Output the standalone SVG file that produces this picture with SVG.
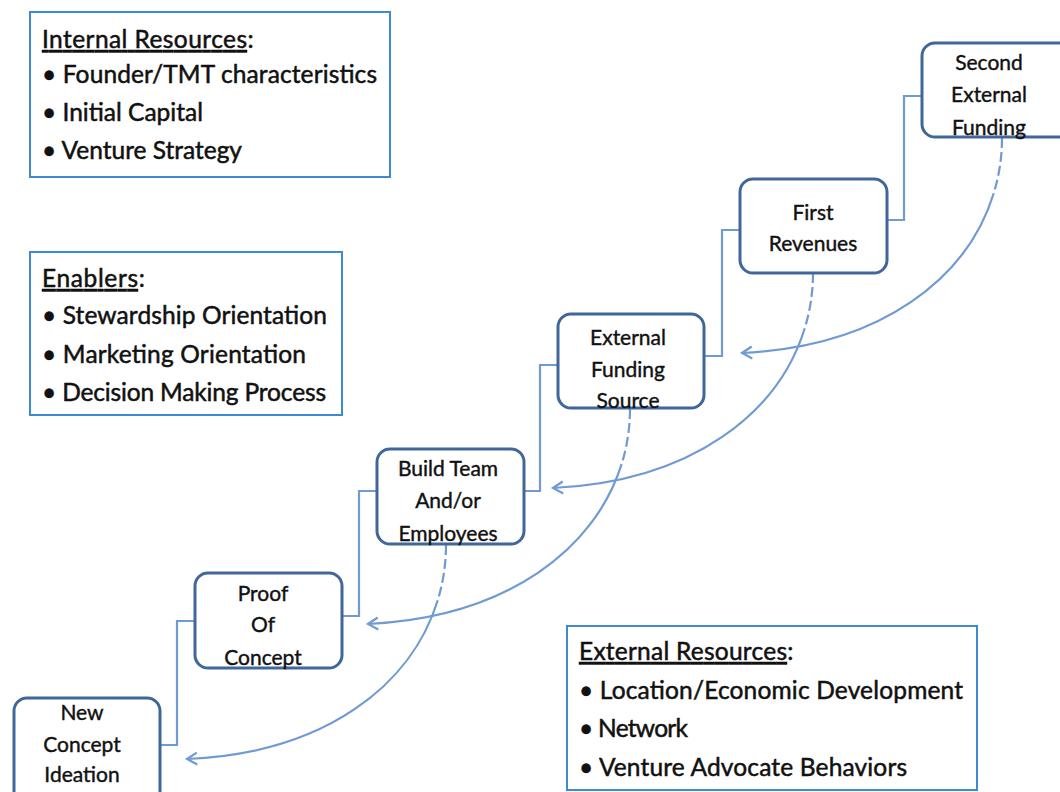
<svg xmlns="http://www.w3.org/2000/svg" width="1060" height="792" viewBox="0 0 1060 792">
<style>
.box{fill:#fff;stroke:#3C8AD2;stroke-width:2}
.node{fill:#fff;stroke:#41679A;stroke-width:3}
.t{font-family:Lato,"Liberation Sans",sans-serif;font-size:24.5px;fill:#111;stroke:#111;stroke-width:0.5}
.n{font-family:Lato,"Liberation Sans",sans-serif;font-size:21px;fill:#111;stroke:#111;stroke-width:0.4;text-anchor:middle}
.u{text-decoration:underline}
.elb{fill:none;stroke:#6F9BD2;stroke-width:2.2}
.cur{fill:none;stroke:#6F9BD2;stroke-width:2.2;stroke-dasharray:10 4 10 4 10 4 10 4 2000}
</style>
<defs>
<marker id="ah" markerUnits="userSpaceOnUse" markerWidth="20" markerHeight="20" refX="12" refY="10" orient="auto">
<path d="M2,4 L12,10 L2,16" fill="none" stroke="#6F9BD2" stroke-width="2.2"/>
</marker>
</defs>
<rect width="1060" height="792" fill="#fff"/>

<g id="internal-resources">
<rect class="box" x="30" y="12" width="360" height="165"/>
<text class="t" x="42" y="48"><tspan class="u" textLength="205">Internal Resources</tspan>:</text>
<text class="t" x="42" y="83" textLength="335">• Founder/TMT characteristics</text>
<text class="t" x="42" y="121" textLength="161">• Initial Capital</text>
<text class="t" x="42" y="159" textLength="200">• Venture Strategy</text>
</g>

<g id="enablers">
<rect class="box" x="30" y="252" width="312" height="163"/>
<text class="t" x="42" y="287"><tspan class="u" textLength="96">Enablers</tspan>:</text>
<text class="t" x="42" y="324" textLength="285">• Stewardship Orientation</text>
<text class="t" x="42" y="363" textLength="264">• Marketing Orientation</text>
<text class="t" x="42" y="401" textLength="284">• Decision Making Process</text>
</g>

<g id="external-resources">
<rect class="box" x="567" y="626" width="410" height="164"/>
<text class="t" x="579" y="660"><tspan class="u" textLength="208">External Resources</tspan>:</text>
<text class="t" x="579" y="699" textLength="384">• Location/Economic Development</text>
<text class="t" x="579" y="737" textLength="109">• Network</text>
<text class="t" x="579" y="776" textLength="328">• Venture Advocate Behaviors</text>
</g>

<g id="connectors">
<polyline class="elb" points="160,745 177,745 177,621 195,621"/>
<polyline class="elb" points="342,616 359,616 359,491 377,491"/>
<polyline class="elb" points="524,491 540,491 540,365 558,365"/>
<polyline class="elb" points="705,356 722,356 722,230 740,230"/>
<polyline class="elb" points="887,220 904,220 904,96 922,96"/>
<path class="cur" d="M1002,138 C1002,245 912,345 742,353" marker-end="url(#ah)"/>
<path class="cur" d="M813,273 C813,380 723,480 553,488" marker-end="url(#ah)"/>
<path class="cur" d="M630,409 C630,516 538,616 368,624" marker-end="url(#ah)"/>
<path class="cur" d="M446,545 C446,652 356,752 187,759" marker-end="url(#ah)"/>
</g>

<g id="new-concept">
<rect class="node" x="14" y="698" width="146" height="110" rx="13"/>
<text class="n" x="82" y="720">New</text>
<text class="n" x="82" y="752">Concept</text>
<text class="n" x="82" y="782">Ideation</text>
</g>

<g id="proof-of-concept">
<rect class="node" x="195" y="573" width="147" height="95" rx="13"/>
<text class="n" x="263" y="601">Proof</text>
<text class="n" x="263" y="632">Of</text>
<text class="n" x="263" y="665">Concept</text>
</g>

<g id="build-team">
<rect class="node" x="377" y="449" width="147" height="95" rx="13"/>
<text class="n" x="448" y="476">Build Team</text>
<text class="n" x="448" y="508">And/or</text>
<text class="n" x="448" y="541">Employees</text>
</g>

<g id="external-funding">
<rect class="node" x="558" y="314" width="146" height="94" rx="13"/>
<text class="n" x="628" y="345">External</text>
<text class="n" x="628" y="377">Funding</text>
<text class="n" x="628" y="408">Source</text>
</g>

<g id="first-revenues">
<rect class="node" x="740" y="179" width="147" height="94" rx="13"/>
<text class="n" x="813" y="220">First</text>
<text class="n" x="813" y="251">Revenues</text>
</g>

<g id="second-funding">
<rect class="node" x="922" y="43" width="150" height="94" rx="13"/>
<text class="n" x="989" y="70">Second</text>
<text class="n" x="989" y="102">External</text>
<text class="n" x="989" y="135">Funding</text>
</g>
</svg>
